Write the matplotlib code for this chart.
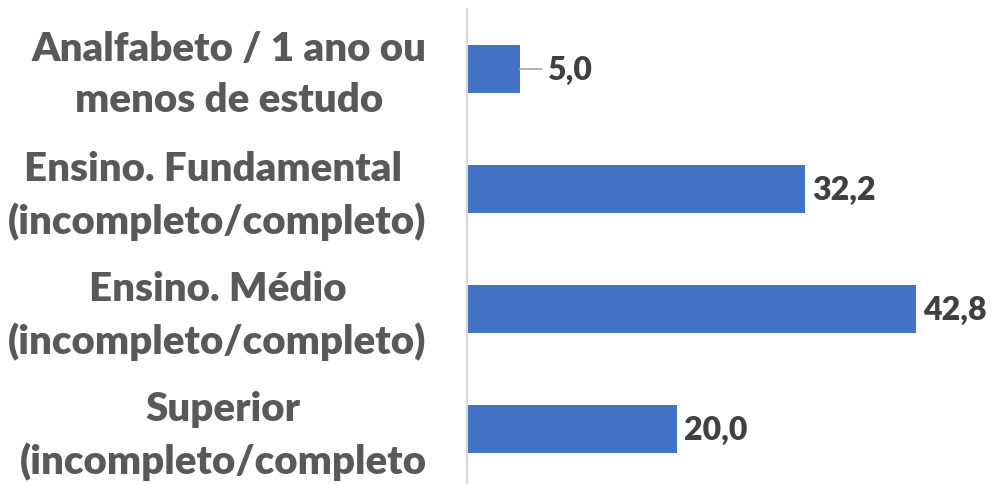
import numpy as np
import matplotlib.pyplot as plt
from matplotlib.transforms import ScaledTranslation

categories = [
    "Analfabeto / 1 ano ou\nmenos de estudo",
    "Ensino. Fundamental \n(incompleto/completo)",
    "Ensino. Médio\n(incompleto/completo)",
    "Superior\n(incompleto/completo",
]
values = [5.0, 32.2, 42.8, 20.0]
value_labels = ["5,0", "32,2", "42,8", "20,0"]

plt.rcParams['font.family'] = ['Lato', 'DejaVu Sans']

fig = plt.figure(figsize=(10.02, 4.85), dpi=100)
W, H = 1002, 485
# axes: left edge at the vertical axis line, rows 120 px apart
ax = fig.add_axes([467 / W, (485 - 490) / H, (990 - 467) / W, 480 / H])

y = np.arange(len(values))
ax.barh(y, values, height=0.4, color='#4472C4')
ax.set_ylim(len(values) - 0.5, -0.5)
ax.set_xlim(0, 523 / 10.5)

ax.set_yticks(y)
ax.set_yticklabels(categories, fontsize=29, fontweight='heavy', color='#595959',
                   ha='right', multialignment='center', linespacing=1.45)
ax.tick_params(axis='y', length=0, pad=29)
ax.set_xticks([])
# nudge category labels up a little
shift = ScaledTranslation(0, 5 / 100, fig.dpi_scale_trans)
for t in ax.get_yticklabels():
    t.set_transform(t.get_transform() + shift)

for s in ['top', 'right', 'bottom']:
    ax.spines[s].set_visible(False)
ax.spines['left'].set_color('#D9D9D9')
ax.spines['left'].set_linewidth(1.5)

for i, (v, lab) in enumerate(zip(values, value_labels)):
    if v < 10:
        # small bar: label pushed out with a leader line
        ax.annotate(lab, xy=(v, i), xytext=(20, 0), textcoords='offset points',
                    va='center', ha='left', fontsize=23, fontweight='heavy', color='#404040',
                    arrowprops=dict(arrowstyle='-', color='#A6A6A6', lw=1.2,
                                    shrinkA=2, shrinkB=0))
    else:
        ax.annotate(lab, xy=(v, i), xytext=(5, 0), textcoords='offset points',
                    va='center', ha='left', fontsize=23, fontweight='heavy', color='#404040')

fig.savefig('out.png', dpi=100)
